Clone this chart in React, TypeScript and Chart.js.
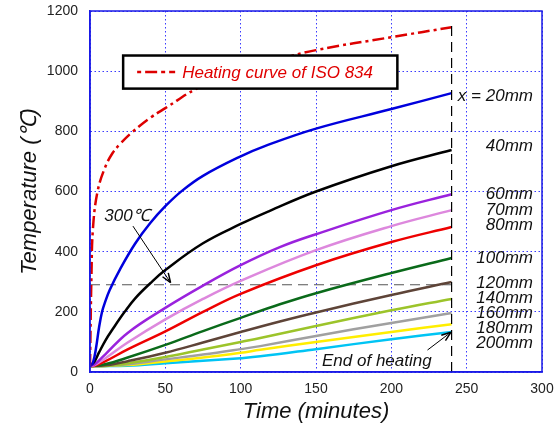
import React, { useEffect, useRef } from "react";
import { Chart, registerables } from "chart.js";
Chart.register(...registerables);

// [time (min), temperature (°C)]
const iso834: [number, number][] = [[0,20],[1,330],[2,480],[5,600],[10,680],[15,728],[20,758],[28,797],[40,845],[50,877],[72,945],[100,1000],[126,1040],[150,1070],[200,1113],[240,1146]];
const x20: [number, number][] = [[0,20],[2,32],[4,80],[6,148],[8,200],[10,232],[13,272],[20,342],[30,427],[40,495],[50,551],[61,602],[75,652],[100,717],[116,751],[150,809],[200,874],[240,927]];
const x40: [number, number][] = [[0,20],[3,35],[6,65],[10,103],[15,142],[23,200],[30,245],[40,295],[50,339],[75,428],[100,492],[119,535],[150,600],[200,684],[240,738]];
const x60: [number, number][] = [[0,20],[3,25],[10,58],[25,130],[50,213],[75,287],[100,355],[126,415],[150,458],[200,538],[240,591]];
const x70: [number, number][] = [[0,20],[3,23],[10,45],[25,98],[50,175],[75,243],[100,303],[150,405],[200,485],[240,538]];
const x80: [number, number][] = [[0,20],[3,21],[10,35],[25,75],[50,135],[75,200],[100,260],[150,355],[200,432],[240,482]];
const x100: [number, number][] = [[0,20],[10,26],[25,48],[50,90],[75,136],[100,180],[126,225],[150,262],[200,329],[240,379]];
const x120: [number, number][] = [[0,20],[10,22],[25,36],[50,64],[75,98],[100,133],[126,168],[150,198],[200,256],[240,299]];
const x140: [number, number][] = [[0,20],[10,20],[25,29],[50,50],[75,75],[100,100],[113,113],[150,153],[200,205],[240,243]];
const x160: [number, number][] = [[0,20],[10,20],[25,26],[50,42],[75,58],[100,76],[113,86],[150,120],[200,163],[240,196]];
const x180: [number, number][] = [[0,20],[25,23],[50,35],[75,48],[100,64],[113,74],[150,100],[200,133],[240,159]];
const x200: [number, number][] = [[0,20],[25,21],[50,29],[75,37],[100,46],[113,52],[150,76],[200,109],[240,133]];
const ref300Line: [number, number][] = [[0,290],[243,290]];
const endHeatingLine: [number, number][] = [[240,0],[240,1152]];

const xTicks = [0, 50, 100, 150, 200, 250, 300];
const yTicks = [0, 200, 400, 600, 800, 1000, 1200];

const seriesNames = ["x = 20mm","40mm","60mm","70mm","80mm","100mm","120mm","140mm","160mm","180mm","200mm"];
const seriesLabelTemps = [917, 751, 591, 538, 488, 379, 296, 246, 196, 146, 96];
const seriesData = [x20, x40, x60, x70, x80, x100, x120, x140, x160, x180, x200];
const seriesColors = ["#0000dd","#000000","#9a22dd","#dd88dd","#ee0000","#0a6a1a","#5e4438","#9cc42a","#a0a0a0","#ffee00","#00c4f4"];

const toXY = (arr: [number, number][]) => arr.map(([x, y]) => ({ x, y }));
const FONT = "'Liberation Sans', Arial, sans-serif";

const annotationPlugin = {
  id: "annots",
  afterDatasetsDraw(chart: any) {
    const { ctx, chartArea, scales } = chart;
    const xs = scales.x, ys = scales.y;
    const px = (v: number) => xs.getPixelForValue(v);
    const py = (v: number) => ys.getPixelForValue(v);
    ctx.save();
    // plot frame
    ctx.strokeStyle = "#1a1ae6";
    ctx.lineWidth = 1.5;
    ctx.strokeRect(chartArea.left, chartArea.top, chartArea.right - chartArea.left, chartArea.bottom - chartArea.top);

    // right-side labels
    ctx.fillStyle = "#111";
    ctx.font = `italic 17px ${FONT}`;
    ctx.textAlign = "right";
    ctx.textBaseline = "middle";
    seriesNames.forEach((n, i) => ctx.fillText(n, px(294), py(seriesLabelTemps[i])));

    // 300 label + arrow
    ctx.textAlign = "left";
    ctx.fillText("300℃", px(9.5), py(518));
    const arrow = (x1: number, y1: number, x2: number, y2: number) => {
      ctx.strokeStyle = "#000";
      ctx.lineWidth = 1;
      ctx.beginPath();
      ctx.moveTo(x1, y1);
      ctx.lineTo(x2, y2);
      ctx.stroke();
      const a = Math.atan2(y2 - y1, x2 - x1);
      const L = 10, w = 0.35;
      ctx.beginPath();
      ctx.moveTo(x2, y2);
      ctx.lineTo(x2 - L * Math.cos(a - w), y2 - L * Math.sin(a - w));
      ctx.moveTo(x2, y2);
      ctx.lineTo(x2 - L * Math.cos(a + w), y2 - L * Math.sin(a + w));
      ctx.lineWidth = 1.5;
      ctx.stroke();
    };
    arrow(px(28.5), py(485), px(53.5), py(297));
    // End of heating
    ctx.fillStyle = "#111";
    ctx.fillText("End of heating", px(154), py(36));
    arrow(px(224), py(73), px(239.5), py(132));

    // legend box
    const bx = px(22), by = py(1052), bw = px(204) - px(22), bh = py(942) - py(1052);
    ctx.fillStyle = "#fff";
    ctx.fillRect(bx, by, bw, bh);
    ctx.strokeStyle = "#000";
    ctx.lineWidth = 2.5;
    ctx.strokeRect(bx, by, bw, bh);
    ctx.strokeStyle = "#dd0000";
    ctx.lineWidth = 2.5;
    ctx.setLineDash([4, 4, 12, 4]);
    ctx.beginPath();
    ctx.moveTo(bx + 14, by + bh / 2);
    ctx.lineTo(bx + 52, by + bh / 2);
    ctx.stroke();
    ctx.setLineDash([]);
    ctx.fillStyle = "#e00000";
    ctx.font = `italic 17px ${FONT}`;
    ctx.textAlign = "left";
    ctx.fillText("Heating curve of ISO 834", bx + 59, by + bh / 2 + 1);
    ctx.restore();
  },
};

export default function App() {
  const ref = useRef<HTMLCanvasElement>(null);
  useEffect(() => {
    if (!ref.current) return;
    const datasets: any[] = [
      {
        label: "Heating curve of ISO 834",
        data: toXY(iso834),
        borderColor: "#dd0000",
        borderWidth: 2.5,
        borderDash: [12, 4, 3, 4],
        pointRadius: 0,
        tension: 0.4,
        order: 1,
      },
      ...seriesData.map((d, i) => ({
        label: seriesNames[i],
        data: toXY(d),
        borderColor: seriesColors[i],
        borderWidth: 2.5,
        pointRadius: 0,
        tension: 0.4,
        order: 2 + i,
      })),
      {
        label: "300 line",
        data: toXY(ref300Line),
        borderColor: "#555",
        borderWidth: 1.2,
        borderDash: [10, 6],
        pointRadius: 0,
        order: 20,
      },
      {
        label: "end line",
        data: toXY(endHeatingLine),
        borderColor: "#000",
        borderWidth: 1.2,
        borderDash: [10, 6],
        pointRadius: 0,
        order: 0,
      },
    ];
    const chart = new Chart(ref.current, {
      type: "line",
      data: { datasets },
      options: {
        animation: false,
        responsive: false,
        layout: { padding: { top: 11, right: 18, left: 0, bottom: 0 } },
        plugins: { legend: { display: false }, tooltip: { enabled: false } },
        scales: {
          x: {
            type: "linear",
            min: 0,
            max: 300,
            afterBuildTicks: (s: any) => { s.ticks = xTicks.map((v) => ({ value: v })); },
            afterFit: (s: any) => { s.height = 56; s.paddingLeft = 0; s.paddingRight = 0; },
            ticks: { color: "#222", font: { family: FONT, size: 14 }, padding: 9, callback: (v: any) => String(v) },
            grid: { color: "#3a3aff", lineWidth: 1, drawTicks: false },
            border: { display: true, color: "#1a1ae6", width: 1.5, dash: [1.5, 2.5] },
            title: { display: true, text: "Time (minutes)", color: "#111", font: { family: FONT, size: 22, style: "italic" }, padding: { top: 0, bottom: 3 } },
          },
          y: {
            type: "linear",
            min: 0,
            max: 1200,
            afterBuildTicks: (s: any) => { s.ticks = yTicks.map((v) => ({ value: v })); },
            afterFit: (s: any) => { s.width = 90; s.paddingTop = 0; s.paddingBottom = 0; },
            ticks: { color: "#222", font: { family: FONT, size: 14 }, padding: 12, callback: (v: any) => String(v) },
            grid: { color: "#3a3aff", lineWidth: 1, drawTicks: false },
            border: { display: true, color: "#1a1ae6", width: 1.5, dash: [1.5, 2.5] },
            title: { display: true, text: "Temperature (℃)", color: "#111", font: { family: FONT, size: 22, style: "italic" }, padding: { top: 17, bottom: 0 } },
          },
        },
      },
      plugins: [annotationPlugin],
    });
    return () => chart.destroy();
  }, []);
  return (
    <div style={{ position: "fixed", left: 0, top: 0, width: 560, height: 428, background: "#fff" }}>
      <canvas ref={ref} width={560} height={428} style={{ width: 560, height: 428 }} />
    </div>
  );
}
